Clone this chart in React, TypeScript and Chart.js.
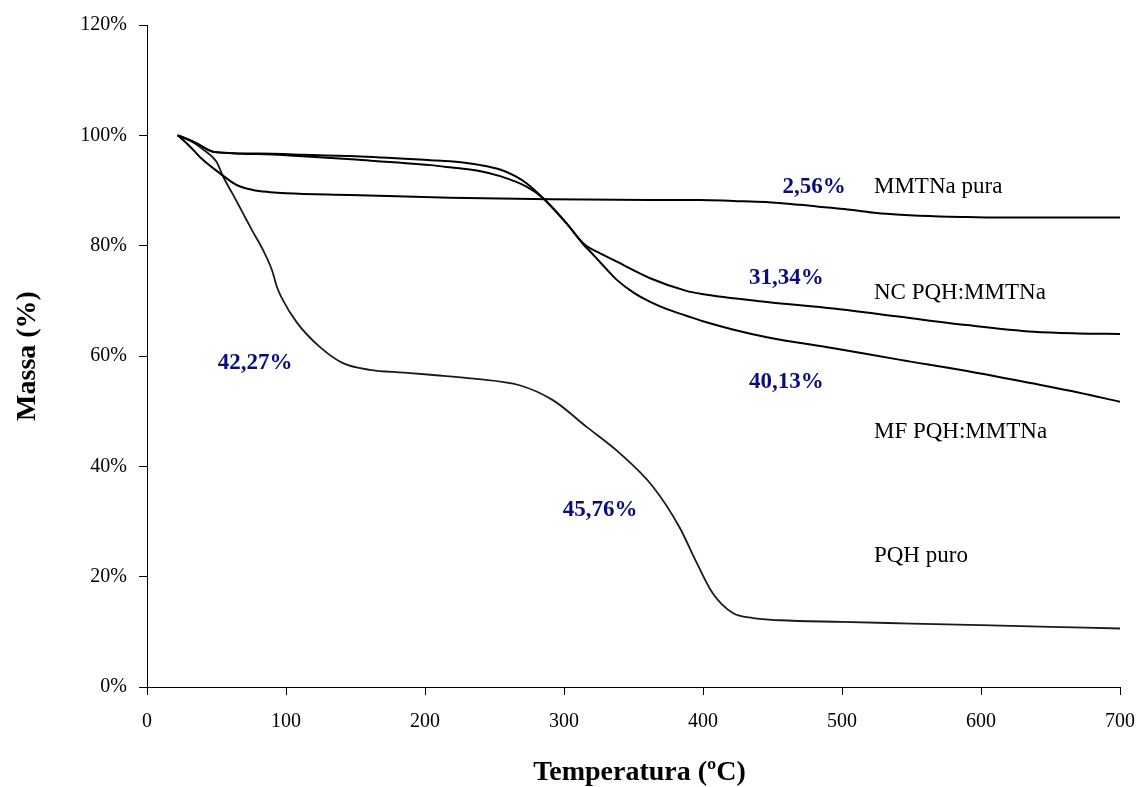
import React, { useEffect, useRef } from "react";
import { Chart, registerables } from "chart.js";

Chart.register(...registerables);

// ---- Data ----
const pqhTemp = [22, 30, 40, 50, 55, 62, 69, 76, 83.5, 90, 93.5, 97, 108, 124.5, 141, 160, 185, 204, 235, 268, 292, 316.5, 340, 364, 383, 395.5, 407, 421.5, 436, 455, 500, 550, 600, 650, 700];
const pqhMass = [100, 99.2, 97.5, 95.2, 92.4, 89.2, 85.9, 82.6, 79.2, 75.5, 72.5, 70.5, 66, 61.6, 58.7, 57.5, 57, 56.6, 55.9, 54.7, 52, 47.1, 42.4, 36.3, 29, 22.5, 17, 13.4, 12.5, 12.1, 11.8, 11.5, 11.2, 10.9, 10.6];

const mmtTemp = [22, 30, 40, 52.5, 64.5, 76, 88.5, 100, 146, 218, 290, 362, 398, 422, 445, 470, 490, 506, 525, 542, 570, 590, 620, 657, 700];
const mmtMass = [100, 98.2, 95.6, 93.1, 91.0, 90.1, 89.7, 89.5, 89.2, 88.7, 88.4, 88.3, 88.3, 88.1, 87.9, 87.4, 86.9, 86.5, 85.9, 85.6, 85.3, 85.2, 85.1, 85.1, 85.1];

const ncTemp = [22, 30, 36, 48, 80, 112, 150, 204, 218, 240, 254, 265, 273, 285, 302, 314, 319, 326, 338, 362, 388, 398, 446, 494, 542, 590, 638, 670, 700];
const ncMass = [100, 99.2, 98.5, 97.0, 96.7, 96.5, 96.2, 95.5, 95.3, 94.6, 93.8, 92.6, 91.3, 88.6, 84.0, 80.4, 79.5, 78.6, 77.1, 74.1, 71.8, 71.3, 69.8, 68.6, 67.1, 65.6, 64.4, 64.1, 64.0];

const mfTemp = [22, 30, 36, 48, 80, 112, 150, 204, 218, 240, 254, 273, 285, 302, 314, 319, 326, 338, 350, 362, 375, 388, 400, 420, 446, 494, 542, 590, 638, 670, 700];
const mfMass = [100, 99.2, 98.5, 97.0, 96.6, 96.2, 95.6, 94.6, 94.2, 93.5, 92.6, 90.7, 88.6, 84.0, 80.2, 78.9, 77.0, 73.8, 71.5, 69.8, 68.4, 67.3, 66.3, 64.9, 63.4, 61.4, 59.3, 57.3, 55.0, 53.4, 51.7];

// Annotations (data coordinates)
const lossLabels = ["2,56%", "31,34%", "40,13%", "42,27%", "45,76%"];
const lossX = [480, 460, 460, 77.7, 326];
const lossY = [90.6, 74.1, 55.3, 58.7, 32.1];

const seriesNames = ["MMTNa pura", "NC PQH:MMTNa", "MF PQH:MMTNa", "PQH puro"];
const seriesNameX = [523, 523, 523, 523];
const seriesNameY = [90.6, 71.5, 46.3, 23.7];

const xTitle = "Temperatura (ºC)";
const yTitle = "Massa (%)";

const FONT = "'Liberation Serif', 'Times New Roman', serif";

function pts(xs: number[], ys: number[]) {
  return xs.map((x, i) => ({ x, y: ys[i] }));
}

const textPlugin = {
  id: "texts",
  afterDatasetsDraw(chart: any) {
    const { ctx, scales, chartArea } = chart;
    const xs = scales.x;
    const ys = scales.y;
    ctx.save();
    ctx.textBaseline = "middle";
    ctx.font = `bold 23px ${FONT}`;
    ctx.fillStyle = "#0b0b80";
    ctx.textAlign = "center";
    lossLabels.forEach((t, i) => {
      ctx.fillText(t, xs.getPixelForValue(lossX[i]), ys.getPixelForValue(lossY[i]));
    });
    ctx.font = `23px ${FONT}`;
    ctx.fillStyle = "#000";
    ctx.textAlign = "left";
    seriesNames.forEach((t, i) => {
      ctx.fillText(t, xs.getPixelForValue(seriesNameX[i]), ys.getPixelForValue(seriesNameY[i]));
    });
    ctx.font = `bold 28px ${FONT}`;
    ctx.textAlign = "center";
    ctx.fillText(xTitle, (chartArea.left + chartArea.right) / 2 + 6, 773);
    ctx.translate(28, (chartArea.top + chartArea.bottom) / 2);
    ctx.rotate(-Math.PI / 2);
    ctx.fillText(yTitle, 0, 0);
    ctx.restore();
  },
};

export default function App() {
  const ref = useRef<HTMLCanvasElement | null>(null);

  useEffect(() => {
    document.body.style.margin = "0";
    const canvas = ref.current!;
    const lineStyle = {
      borderColor: "#000",
      borderWidth: 2,
      pointRadius: 0,
      fill: false,
      cubicInterpolationMode: "monotone" as const,
    };
    const chart = new Chart(canvas, {
      type: "line",
      data: {
        datasets: [
          { label: "MMTNa pura", data: pts(mmtTemp, mmtMass), ...lineStyle },
          { label: "NC PQH:MMTNa", data: pts(ncTemp, ncMass), ...lineStyle },
          { label: "MF PQH:MMTNa", data: pts(mfTemp, mfMass), ...lineStyle },
          { label: "PQH puro", data: pts(pqhTemp, pqhMass), ...lineStyle, borderColor: "#1a1a1a", borderWidth: 1.8 },
        ],
      },
      options: {
        responsive: false,
        animation: false,
        layout: { padding: { top: 25, right: 20, left: 0, bottom: 0 } },
        plugins: { legend: { display: false }, tooltip: { enabled: false } },
        scales: {
          x: {
            type: "linear",
            min: 0,
            max: 700,
            ticks: { stepSize: 100, color: "#000", font: { family: FONT, size: 20 }, padding: 15, maxRotation: 0 },
            grid: { drawOnChartArea: false, drawTicks: true, tickLength: 8, color: "#000" },
            border: { display: true, color: "#000", width: 1 },
            afterFit: (s: any) => { s.height = 100; s.paddingLeft = 0; s.paddingRight = 0; },
          },
          y: {
            type: "linear",
            min: 0,
            max: 120,
            ticks: { stepSize: 20, color: "#000", font: { family: FONT, size: 20 }, padding: 12, callback: (v: any) => v + "%" },
            grid: { drawOnChartArea: false, drawTicks: true, tickLength: 8, color: "#000" },
            border: { display: true, color: "#000", width: 1 },
            afterFit: (s: any) => { s.width = 147; s.paddingTop = 0; s.paddingBottom = 0; },
          },
        },
      },
      plugins: [textPlugin],
    });
    return () => chart.destroy();
  }, []);

  return (
    <div style={{ position: "absolute", left: 0, top: 0, width: 1140, height: 787, background: "#fff" }}>
      <canvas ref={ref} width={1140} height={787} style={{ width: 1140, height: 787, display: "block" }} />
    </div>
  );
}
